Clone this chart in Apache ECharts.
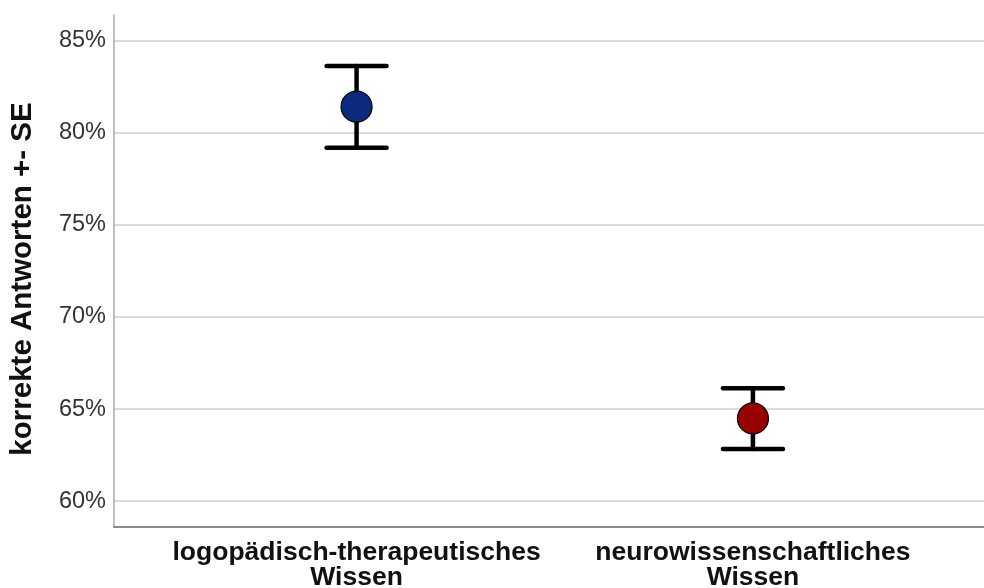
<!DOCTYPE html>
<html>
<head>
<meta charset="utf-8">
<script src="https://cdn.jsdelivr.net/npm/echarts@6/dist/echarts.min.js"></script>
<style>
  html, body { margin: 0; padding: 0; background: #fff; }
  #chart { width: 984px; height: 588px; }
</style>
</head>
<body>
<div id="chart"></div>
<script>
// Two knowledge domains with mean share of correct answers and ± standard error
const categories = ['logopädisch-therapeutisches\nWissen', 'neurowissenschaftliches\nWissen'];
const positions = [1, 2];
const means = [81.43, 64.49];
const upper = [83.64, 66.13];
const lower = [79.20, 62.83];
const pointColors = ['#0b2a7b', '#990000'];
const yTicks = [60, 65, 70, 75, 80, 85];

const FONT = 'Liberation Sans, Arial, sans-serif';

const chart = echarts.init(document.getElementById('chart'));

const errorData = positions.map((x, i) => [x, lower[i], upper[i]]);
const pointData = positions.map((x, i) => ({
  value: [x, means[i]],
  itemStyle: { color: pointColors[i] }
}));

chart.setOption({
  animation: false,
  grid: {
    left: 114, right: 0, top: 15, bottom: 61,
    containLabel: false,
    outerBoundsMode: 'none'
  },
  xAxis: {
    type: 'value',
    min: 0.388,
    max: 2.583,
    axisLine: { show: true, lineStyle: { color: '#666', width: 1.5 } },
    axisTick: { show: false, customValues: positions },
    splitLine: { show: false },
    axisLabel: {
      customValues: positions,
      formatter: v => categories[positions.indexOf(Math.round(v))] || '',
      fontFamily: FONT,
      fontSize: 26.5,
      fontWeight: 'bold',
      color: '#111',
      lineHeight: 25,
      margin: 13
    }
  },
  yAxis: {
    type: 'value',
    min: 58.59,
    max: 86.41,
    name: 'korrekte Antworten +- SE',
    nameLocation: 'middle',
    nameGap: 76,
    nameTextStyle: {
      fontFamily: FONT, fontSize: 29.5, fontWeight: 'bold', color: '#111',
      padding: [0, 16, 0, 0]
    },
    axisLine: { show: true, lineStyle: { color: '#aaa', width: 1.5 } },
    axisTick: { show: false, customValues: yTicks },
    splitLine: { show: true, lineStyle: { color: '#cfcfcf', width: 1.5 } },
    axisLabel: {
      customValues: yTicks,
      formatter: v => v + '%',
      fontFamily: FONT,
      fontSize: 23.5,
      color: '#333',
      margin: 8
    }
  },
  series: [
    {
      type: 'custom',
      name: 'SE',
      data: errorData,
      renderItem: (params, api) => {
        const x = api.value(0);
        const lo = api.coord([x, api.value(1)]);
        const hi = api.coord([x, api.value(2)]);
        const half = 30;
        const style = { stroke: '#000', lineWidth: 4.5, lineCap: 'round' };
        return {
          type: 'group',
          children: [
            { type: 'line', shape: { x1: lo[0], y1: lo[1], x2: hi[0], y2: hi[1] }, style },
            { type: 'line', shape: { x1: hi[0] - half, y1: hi[1], x2: hi[0] + half, y2: hi[1] }, style },
            { type: 'line', shape: { x1: lo[0] - half, y1: lo[1], x2: lo[0] + half, y2: lo[1] }, style }
          ]
        };
      },
      z: 2
    },
    {
      type: 'scatter',
      name: 'Mittelwert',
      data: pointData,
      symbol: 'circle',
      symbolSize: 31,
      itemStyle: { borderColor: '#000', borderWidth: 1.2, opacity: 1 },
      emphasis: { disabled: true },
      z: 3
    }
  ]
});
</script>
</body>
</html>
